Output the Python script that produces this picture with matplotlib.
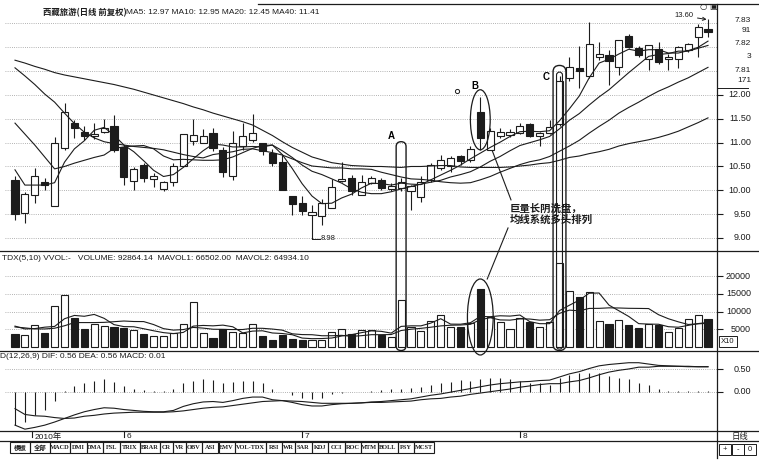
import matplotlib
matplotlib.use("Agg")
import matplotlib.pyplot as plt
import matplotlib.transforms as mtransforms
from matplotlib.lines import Line2D
from matplotlib.patches import Rectangle, Ellipse, FancyBboxPatch

W, H = 759, 463
plt.rcParams["font.family"] = ["Liberation Sans", "Noto Sans CJK SC", "DejaVu Sans"]
CJK = ["Noto Sans CJK SC", "DejaVu Sans"]

# ---------------------------------------------------------------------------
# Data (daily candles, May - Aug 2010)
# ---------------------------------------------------------------------------
opens = [10.22, 9.52, 9.90, 10.17, 9.68, 10.88, 11.42, 11.23, 11.13, 11.23,
         11.35, 10.90, 10.20, 10.53, 10.23, 10.02, 10.18, 10.51, 11.03, 11.00,
         11.21, 10.85, 10.30, 10.92, 11.06, 10.99, 10.78, 10.60, 9.88, 9.74,
         9.48, 9.46, 9.62, 10.20, 10.25, 9.90, 10.16, 10.21, 10.02, 10.05,
         9.99, 9.87, 10.22, 10.46, 10.50, 10.72, 10.64, 11.65, 10.85, 11.14,
         11.16, 11.21, 11.39, 11.13, 11.21, 11.40, 12.35, 12.57, 12.40, 12.80,
         12.84, 12.59, 13.24, 12.98, 12.75, 12.96, 12.75, 12.75, 12.94, 13.21,
         13.38]
highs = [10.30, 9.97, 10.46, 10.25, 11.11, 11.83, 11.48, 11.34, 11.42, 11.49,
         11.58, 10.95, 10.48, 10.58, 10.36, 10.20, 10.57, 11.18, 11.49, 11.28,
         11.30, 10.90, 11.25, 11.41, 11.60, 11.00, 10.86, 10.74, 9.88, 9.88,
         9.69, 9.81, 10.23, 10.60, 10.32, 10.32, 10.29, 10.25, 10.15, 10.25,
         10.11, 10.29, 10.58, 10.74, 10.71, 10.74, 10.92, 11.96, 11.30, 11.30,
         11.28, 11.41, 11.42, 11.23, 11.48, 12.40, 12.80, 13.03, 13.54, 13.12,
         12.94, 13.15, 13.29, 13.03, 13.05, 13.12, 12.85, 13.03, 13.10, 13.49,
         13.60]
lows = [9.38, 9.31, 9.73, 10.01, 9.67, 10.85, 11.09, 11.06, 11.07, 11.20,
        10.81, 10.11, 10.01, 10.18, 10.08, 9.99, 10.09, 10.51, 10.95, 11.00,
        10.83, 10.27, 10.22, 10.85, 11.02, 10.74, 10.51, 10.01, 9.48, 9.48,
        8.98, 9.27, 9.62, 10.18, 9.90, 9.90, 10.13, 10.00, 9.98, 9.98,
        9.59, 9.76, 10.17, 10.43, 10.39, 10.53, 10.60, 10.85, 10.85, 11.09,
        11.12, 11.18, 11.11, 10.92, 11.18, 11.35, 12.30, 12.14, 12.35, 12.73,
        12.21, 12.42, 12.98, 12.80, 12.52, 12.65, 12.52, 12.56, 12.90, 12.80,
        13.22]
closes = [9.50, 9.92, 10.29, 10.11, 11.00, 11.65, 11.31, 11.14, 11.18, 11.30,
          10.85, 10.27, 10.44, 10.25, 10.29, 10.18, 10.50, 11.18, 11.16, 11.14,
          10.88, 10.39, 11.00, 11.13, 11.20, 10.83, 10.57, 10.01, 9.71, 9.57,
          9.55, 9.74, 10.08, 10.24, 9.99, 10.18, 10.25, 10.04, 10.10, 10.18,
          10.09, 10.18, 10.53, 10.64, 10.67, 10.62, 10.86, 11.09, 11.25, 11.23,
          11.23, 11.35, 11.14, 11.21, 11.32, 12.30, 12.59, 12.50, 13.07, 12.87,
          12.72, 13.15, 13.01, 12.84, 13.05, 12.70, 12.79, 13.01, 13.08, 13.42,
          13.33]

ma5 = [10.43, 10.11, 10.11, 10.11, 10.16, 10.59, 10.87, 11.04, 11.26, 11.32,
       11.16, 10.95, 10.81, 10.62, 10.42, 10.29, 10.33, 10.48, 10.66, 10.83,
       10.97, 10.95, 10.91, 10.91, 10.92, 10.91, 10.95, 10.75, 10.46, 10.14,
       9.88, 9.72, 9.73, 9.84, 9.92, 10.05, 10.15, 10.14, 10.11, 10.15,
       10.13, 10.12, 10.22, 10.32, 10.42, 10.53, 10.66, 10.78, 10.90, 11.01,
       11.13, 11.23, 11.24, 11.23, 11.25, 11.46, 11.71, 11.98, 12.36, 12.67,
       12.75, 12.86, 12.96, 12.92, 12.95, 12.95, 12.88, 12.88, 12.93, 13.00,
       13.13]
ma10 = [11.41, 11.18, 10.95, 10.70, 10.45, 10.50, 10.57, 10.63, 10.69, 10.74,
        10.88, 10.91, 10.93, 10.94, 10.87, 10.72, 10.64, 10.65, 10.64, 10.63,
        10.63, 10.64, 10.70, 10.79, 10.88, 10.94, 10.95, 10.83, 10.69, 10.53,
        10.40, 10.33, 10.24, 10.15, 10.03, 9.96, 9.93, 9.93, 9.97, 10.03,
        10.08, 10.13, 10.17, 10.21, 10.28, 10.33, 10.39, 10.49, 10.61, 10.71,
        10.83, 10.94, 11.00, 11.06, 11.13, 11.29, 11.47, 11.61, 11.79, 11.96,
        12.11, 12.29, 12.47, 12.64, 12.81, 12.85, 12.87, 12.92, 12.92, 12.98,
        13.04]
ma20 = [12.57, 12.40, 12.22, 12.02, 11.85, 11.62, 11.40, 11.22, 11.10, 11.02,
        10.98, 10.95, 10.92, 10.90, 10.88, 10.85, 10.80, 10.75, 10.71, 10.68,
        10.75, 10.78, 10.81, 10.86, 10.87, 10.83, 10.79, 10.74, 10.66, 10.58,
        10.51, 10.49, 10.47, 10.47, 10.45, 10.45, 10.44, 10.38, 10.33, 10.28,
        10.24, 10.23, 10.21, 10.18, 10.16, 10.15, 10.16, 10.22, 10.29, 10.38,
        10.46, 10.54, 10.60, 10.64, 10.71, 10.82, 10.93, 11.05, 11.20, 11.34,
        11.47, 11.62, 11.74, 11.85, 11.97, 12.08, 12.17, 12.27, 12.36, 12.47,
        12.58]
ma40 = [12.73, 12.67, 12.60, 12.54, 12.47, 12.42, 12.38, 12.34, 12.30, 12.26,
        12.22, 12.17, 12.12, 12.06, 12.00, 11.94, 11.88, 11.82, 11.75, 11.69,
        11.62, 11.56, 11.50, 11.44, 11.37, 11.26, 11.15, 11.02, 10.90, 10.80,
        10.70, 10.64, 10.58, 10.55, 10.52, 10.51, 10.50, 10.50, 10.49, 10.48,
        10.50, 10.50, 10.51, 10.52, 10.52, 10.49, 10.48, 10.48, 10.48, 10.48,
        10.49, 10.51, 10.53, 10.56, 10.58, 10.63, 10.69, 10.72, 10.77, 10.81,
        10.86, 10.93, 10.98, 11.02, 11.06, 11.11, 11.17, 11.24, 11.33, 11.42,
        11.52]

volume = [3770, 3500, 6300, 4000, 11500, 14600, 8200, 5100, 6600, 6000,
          5700, 5400, 4900, 3800, 3100, 3100, 4000, 6600, 12700, 4050,
          2550, 5000, 4250, 4050, 6600, 3000, 1900, 3500, 2350, 1900,
          2100, 2100, 4250, 5200, 3800, 4900, 4700, 3500, 2700, 13300,
          5700, 4650, 7400, 8900, 5700, 5550, 6700, 16350, 8500, 7000,
          5100, 8200, 7000, 5650, 7000, 23600, 15750, 14150, 15500, 7250,
          6500, 7750, 6100, 5400, 6600, 6300, 4250, 5400, 8000, 9150,
          7900]
mavol1 = [5900, 5100, 5200, 5600, 5810, 7980, 8920, 8680, 9200, 8100,
          6320, 5760, 5720, 5160, 4580, 4060, 3780, 4120, 5900, 6090,
          5980, 6180, 5710, 3980, 4490, 4580, 3960, 3810, 3470, 2530,
          2350, 2390, 2540, 3110, 3490, 4050, 4570, 4420, 3920, 5820,
          5980, 5970, 6750, 7990, 6470, 6440, 6850, 8640, 8560, 8820,
          8730, 9030, 7160, 6590, 6590, 10290, 11800, 13230, 15200, 15250,
          11830, 10230, 8620, 6600, 6470, 6430, 5730, 5590, 6110, 6620,
          6940]
mavol2 = [5660, 5400, 5100, 5100, 5300, 6000, 6900, 6900, 6900, 6960,
          7150, 7340, 7200, 7180, 6340, 5190, 4770, 4920, 5530, 5340,
          5020, 4980, 4920, 4940, 5290, 5280, 5070, 4760, 3730, 3510,
          3470, 3180, 3180, 3290, 3010, 3200, 3480, 3480, 3520, 4660,
          5020, 5270, 5590, 5960, 6150, 6210, 6410, 7700, 8280, 7650,
          7590, 7940, 7900, 7580, 7710, 9510, 10420, 10200, 10900, 10920,
          11060, 11020, 10930, 10900, 10860, 9130, 7980, 7110, 6360, 6550,
          6690]

dif = [-0.75, -0.84, -0.80, -0.75, -0.68, -0.60, -0.52, -0.45, -0.40, -0.36,
       -0.37, -0.40, -0.42, -0.44, -0.45, -0.45, -0.42, -0.33, -0.27, -0.23,
       -0.22, -0.24, -0.20, -0.15, -0.12, -0.12, -0.18, -0.20, -0.24, -0.29,
       -0.32, -0.32, -0.29, -0.27, -0.26, -0.25, -0.23, -0.22, -0.20, -0.18,
       -0.16, -0.12, -0.08, -0.05, -0.01, 0.03, 0.07, 0.11, 0.15, 0.18,
       0.20, 0.22, 0.23, 0.25, 0.26, 0.33, 0.40, 0.45, 0.52, 0.58,
       0.61, 0.63, 0.65, 0.65, 0.62, 0.59, 0.58, 0.57, 0.57, 0.56,
       0.56]
dea = [-0.38, -0.51, -0.54, -0.55, -0.58, -0.60, -0.59, -0.55, -0.53, -0.50,
       -0.48, -0.47, -0.46, -0.46, -0.46, -0.46, -0.45, -0.43, -0.40, -0.37,
       -0.35, -0.34, -0.31, -0.28, -0.25, -0.22, -0.21, -0.20, -0.21, -0.22,
       -0.24, -0.26, -0.26, -0.26, -0.26, -0.25, -0.24, -0.24, -0.23, -0.22,
       -0.21, -0.18, -0.16, -0.15, -0.12, -0.10, -0.06, -0.03, 0.00, 0.03,
       0.06, 0.10, 0.13, 0.16, 0.18, 0.18, 0.22, 0.25, 0.31, 0.38,
       0.44, 0.48, 0.51, 0.55, 0.55, 0.57, 0.57, 0.57, 0.56, 0.56,
       0.56]
macd = [-0.75, -0.67, -0.52, -0.41, -0.20, 0.01, 0.13, 0.20, 0.25, 0.28,
        0.22, 0.13, 0.07, 0.04, 0.02, 0.02, 0.05, 0.19, 0.25, 0.28,
        0.26, 0.20, 0.22, 0.25, 0.25, 0.20, 0.05, 0.00, -0.07, -0.15,
        -0.17, -0.13, -0.06, -0.02, -0.01, 0.00, 0.02, 0.04, 0.05, 0.07,
        0.09, 0.11, 0.15, 0.19, 0.22, 0.26, 0.25, 0.28, 0.30, 0.30,
        0.28, 0.25, 0.20, 0.19, 0.16, 0.30, 0.37, 0.41, 0.43, 0.41,
        0.35, 0.31, 0.28, 0.20, 0.15, 0.05, 0.02, 0.01, 0.01, 0.01,
        0.01]

price_ticks = [12.0, 11.5, 11.0, 10.5, 10.0, 9.5, 9.0]
price_grid = [13.5, 13.0, 12.5] + price_ticks
# the upper part of the scanned price scale is garbled; kept as printed
odd_labels = ["7.83", "91", "7.82", "3", "7.81", "171"]
odd_pos = [13.57, 13.36, 13.09, 12.80, 12.52, 12.31]
vol_ticks = [5000, 10000, 15000, 20000]
macd_ticks = [0.0, 0.5]
month_pos = [1.7, 11, 29, 51]
month_lab = ["2010年", "6", "7", "8"]
buttons = ["模板", "全部", "MACD", "DMI", "DMA", "FSL", "TRIX", "BRAR", "CR", "VR",
           "OBV", "ASI", "EMV", "VOL-TDX", "RSI", "WR", "SAR", "KDJ", "CCI", "ROC",
           "MTM", "BOLL", "PSY", "MCST"]

INK = "#1c1c1c"
GRID = "#9a9a9a"
DOT = (0, (1, 1.6))


# ---------------------------------------------------------------------------
# Helpers (pixel layout of the terminal window)
# ---------------------------------------------------------------------------
def rect(x0, y0, x1, y1):
    return [x0 / W, 1 - y1 / H, (x1 - x0) / W, (y1 - y0) / H]


def fx(x):
    return x / W


def fy(y):
    return 1 - y / H


def hline(y, x0, x1, lw=0.9):
    fig.add_artist(Line2D([fx(x0), fx(x1)], [fy(y), fy(y)], color=INK, lw=lw))


def vline(x, y0, y1, lw=0.9):
    fig.add_artist(Line2D([fx(x), fx(x)], [fy(y0), fy(y1)], color=INK, lw=lw))


def right_labels(ax, values, labels, size=6.5):
    tr = mtransforms.blended_transform_factory(fig.transFigure, ax.transData)
    for v, lab in zip(values, labels):
        ax.text(fx(751), v, lab, transform=tr, ha="right", va="center",
                fontsize=size, color=INK, clip_on=False)


def capsule(i, width, top_price, bottom_vol, lw=1.0):
    x0, ytop = ax_p.transData.transform((i - width / 2, top_price))
    x1, ybot = ax_v.transData.transform((i + width / 2, bottom_vol))
    w = x1 - x0
    fig.add_artist(FancyBboxPatch((x0, ybot), w, ytop - ybot,
                                  boxstyle=f"round,pad=0,rounding_size={w / 2}",
                                  transform=mtransforms.IdentityTransform(),
                                  fill=False, ec=INK, lw=lw, zorder=6))


fig = plt.figure(figsize=(W / 100, H / 100), dpi=100)
fig.patch.set_facecolor("white")

ax_p = fig.add_axes(rect(5, 4, 717, 251))
ax_v = fig.add_axes(rect(5, 251, 717, 351))
ax_m = fig.add_axes(rect(5, 351, 717, 431))

XLIM = ((5 - 15) / 9.9, (717 - 15) / 9.9)
for ax in (ax_p, ax_v, ax_m):
    ax.set_xlim(*XLIM)
    for sp in ax.spines.values():
        sp.set_visible(False)
    ax.set_xticks([])
    ax.yaxis.tick_right()
    ax.tick_params(axis="y", direction="out", length=4, width=0.8, color=INK,
                   labelright=False)
    ax.patch.set_alpha(0)

ax_p.set_ylim(8.727, 13.909)
ax_v.set_ylim(-1130, 27119)
ax_m.set_ylim(-0.881, 0.9126)
ax_p.set_yticks(price_ticks)
ax_v.set_yticks(vol_ticks)
ax_m.set_yticks(macd_ticks)

x = list(range(len(closes)))

# ---------------------------------------------------------------------------
# Price panel
# ---------------------------------------------------------------------------
for v in price_grid:
    ax_p.axhline(v, color=GRID, lw=0.6, ls=DOT, zorder=1)

for i, (o, h, l, c) in enumerate(zip(opens, highs, lows, closes)):
    down = c < o
    ax_p.vlines(i, l, h, color=INK, lw=0.8, zorder=2)
    ax_p.add_patch(Rectangle((i - 0.36, min(o, c)), 0.72, max(abs(c - o), 0.02),
                             facecolor=INK if down else "white", edgecolor=INK,
                             lw=0.8, zorder=3))

for ma in (ma5, ma10, ma20, ma40):
    ax_p.plot(x, ma, color=INK, lw=0.8, zorder=4)

right_labels(ax_p, price_ticks, [f"{v:.2f}" for v in price_ticks])
right_labels(ax_p, odd_pos, odd_labels, size=6)

# low / high markers
ax_p.plot([30, 30.8], [8.98, 8.98], color=INK, lw=0.7)
ax_p.text(30.85, 8.98, "8.98", fontsize=5.5, va="center", color=INK)
ax_p.annotate("13.60", xy=(70, 13.58), xytext=(66.6, 13.66), fontsize=5.5,
              va="center", color=INK,
              arrowprops=dict(arrowstyle="->", lw=0.7, color=INK, shrinkA=1, shrinkB=1))
ax_p.plot([44.65], [12.08], marker="o", ms=3, mfc="white", mec=INK, mew=0.7)

# A / B / C markings
ax_p.text(38.0, 11.14, "A", fontsize=7, fontweight="bold", ha="center", va="center")
ax_p.text(46.5, 12.19, "B", fontsize=7, fontweight="bold", ha="center", va="center")
ax_p.text(53.6, 12.38, "C", fontsize=7, fontweight="bold", ha="center", va="center")
ax_p.add_patch(Ellipse((47, 11.48), 2.0, 1.26, fill=False, ec=INK, lw=0.9,
                       clip_on=False, zorder=6))
ax_v.add_patch(Ellipse((47, 8475), 2.6, 21470, fill=False, ec=INK, lw=0.9,
                       clip_on=False, zorder=6))
ax_p.plot([48.1, 50.1], [10.89, 9.80], color=INK, lw=0.8, clip_on=False)
ax_p.plot([49.8, 47.7], [9.21, 8.14], color=INK, lw=0.8, clip_on=False)
ax_p.text(50.0, 9.61, "巨量长阴洗盘，", fontsize=7.5, fontweight="bold",
          va="center", family=CJK, color=INK)
ax_p.text(50.0, 9.39, "均线系统多头排列", fontsize=7.5, fontweight="bold",
          va="center", family=CJK, color=INK)

# ---------------------------------------------------------------------------
# Volume panel
# ---------------------------------------------------------------------------
for v in vol_ticks:
    ax_v.axhline(v, color=GRID, lw=0.6, ls=DOT, zorder=1)
bar_colors = [INK if c < o else "white" for o, c in zip(opens, closes)]
ax_v.bar(x, volume, width=0.72, color=bar_colors, edgecolor=INK, lw=0.8, zorder=3)
ax_v.plot(x, mavol1, color=INK, lw=0.8, zorder=4)
ax_v.plot(x, mavol2, color=INK, lw=0.8, zorder=4)
right_labels(ax_v, vol_ticks, [str(v) for v in vol_ticks])

capsule(39, 1.0, 11.02, -1000)
capsule(55, 1.3, 12.62, -1000)
capsule(55, 0.6, 12.48, -600, lw=0.8)

# ---------------------------------------------------------------------------
# MACD panel
# ---------------------------------------------------------------------------
for v in macd_ticks:
    ax_m.axhline(v, color=GRID, lw=0.6, ls=DOT, zorder=1)
ax_m.vlines(x, 0, macd, color=INK, lw=0.8, zorder=3)
ax_m.plot(x, dif, color=INK, lw=0.8, zorder=4)
ax_m.plot(x, dea, color=INK, lw=0.8, zorder=4)
right_labels(ax_m, macd_ticks, ["0.00", "0.50"])

# date strip
tr_date = mtransforms.blended_transform_factory(ax_m.transData, fig.transFigure)
for pos, lab in zip(month_pos, month_lab):
    ax_m.plot([pos, pos], [fy(431), fy(437)], transform=tr_date, color=INK,
              lw=0.8, clip_on=False)
    ax_m.text(pos + 0.25, fy(436.5), lab, transform=tr_date, fontsize=6,
              va="center", color=INK, clip_on=False)

# ---------------------------------------------------------------------------
# Window frame, titles, toolbar
# ---------------------------------------------------------------------------
hline(4, 258, 759)
for yy in (251, 351, 431, 441):
    hline(yy, 0, 759)
vline(717, 4, 458)
hline(88, 717, 748, lw=0.7)

fig.text(fx(43), fy(13), "西藏旅游(日线 前复权)", fontsize=6, fontweight="bold",
         va="center", family=CJK, color=INK)
fig.text(fx(126), fy(13), "MA5: 12.97 MA10: 12.95 MA20: 12.45 MA40: 11.41",
         fontsize=6, va="center", color=INK)
fig.text(fx(2), fy(258),
         "TDX(5,10) VVOL:-   VOLUME: 92864.14  MAVOL1: 66502.00  MAVOL2: 64934.10",
         fontsize=6, va="center", color=INK)
fig.text(fx(0), fy(357), "D(12,26,9) DIF: 0.56 DEA: 0.56 MACD: 0.01",
         fontsize=6, va="center", color=INK)

fig.text(fx(703), fy(7), "○", fontsize=6, ha="center", va="center",
         family=["DejaVu Sans"], color=INK)
fig.text(fx(713), fy(7), "▣", fontsize=6, ha="center", va="center",
         family=["DejaVu Sans"], color=INK)

fig.add_artist(Rectangle((fx(719), fy(347)), 18 / W, 11 / H, transform=fig.transFigure,
                         fill=False, ec=INK, lw=0.7))
fig.text(fx(728), fy(341.5), "X10", fontsize=5.5, ha="center", va="center", color=INK)

fig.text(fx(740), fy(436), "日线", fontsize=6, ha="center", va="center",
         family=CJK, color=INK)
for k, lab in enumerate(["+", "-", "0"]):
    x0 = 719 + 12.5 * k
    fig.add_artist(Rectangle((fx(x0), fy(455)), 12 / W, 11 / H,
                             transform=fig.transFigure, fill=False, ec=INK, lw=0.7))
    fig.text(fx(x0 + 6), fy(449.5), lab, fontsize=5.5, ha="center", va="center",
             color=INK)

bx = 10
for lab in buttons:
    n = sum(2 if ord(ch) > 127 else 1 for ch in lab)
    w = 6 + 3.5 * n
    fig.add_artist(Rectangle((fx(bx), fy(453)), w / W, 11 / H, transform=fig.transFigure,
                             fill=False, ec=INK, lw=0.8))
    fig.text(fx(bx + w / 2), fy(447.5), lab, fontsize=4.6, fontweight="bold",
             ha="center", va="center", family=["Liberation Serif", "Noto Sans CJK SC"],
             color=INK)
    bx += w

fig.savefig("out.png", dpi=100, facecolor="white")
